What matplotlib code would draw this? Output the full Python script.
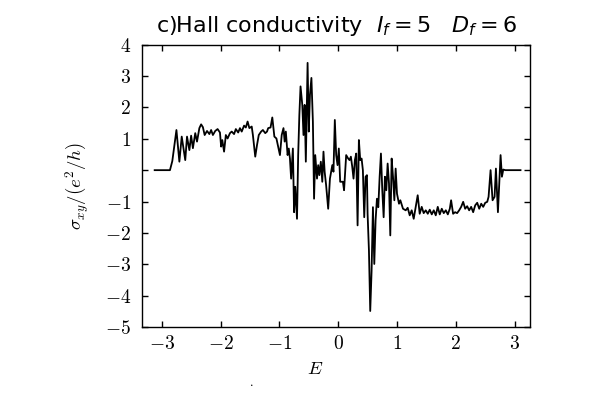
import numpy as np
import matplotlib
matplotlib.use('Agg')
import matplotlib.pyplot as plt

# energy grid and Hall conductivity
energy = [-3.12, -2.86, -2.82, -2.75, -2.70, -2.66, -2.60, -2.57, -2.53, -2.50,
          -2.47, -2.43, -2.40, -2.36, -2.33, -2.30, -2.27, -2.23, -2.19, -2.16,
          -2.13, -2.09, -2.05, -2.01, -1.99, -1.97, -1.94, -1.91, -1.88, -1.84,
          -1.81, -1.77, -1.74, -1.70, -1.67, -1.64, -1.60, -1.57, -1.54, -1.51,
          -1.47, -1.45, -1.41, -1.38, -1.35, -1.31, -1.28, -1.24, -1.21, -1.19,
          -1.15, -1.12, -1.085, -1.05, -1.02,
          -0.99, -0.96, -0.93, -0.91, -0.89, -0.86, -0.84, -0.82, -0.80, -0.77,
          -0.75, -0.73, -0.70, -0.68, -0.66, -0.64, -0.61, -0.59, -0.57, -0.55,
          -0.52, -0.50, -0.48, -0.455, -0.43, -0.41, -0.39, -0.36, -0.34, -0.32,
          -0.295, -0.27, -0.25, -0.23, -0.205, -0.17, -0.14, -0.10, -0.08, -0.057,
          -0.034, -0.011, 0.011, 0.034,
          0.08, 0.10, 0.136, 0.17, 0.193, 0.216, 0.239, 0.261, 0.284, 0.307,
          0.33, 0.352, 0.375, 0.398, 0.42, 0.443, 0.466, 0.489, 0.50, 0.523,
          0.545, 0.568, 0.591, 0.614, 0.636, 0.659, 0.682, 0.705, 0.727, 0.75,
          0.773, 0.795, 0.818, 0.841, 0.864, 0.886, 0.909, 0.932, 0.955, 0.977,
          1.0, 1.034,
          1.057, 1.102, 1.148, 1.182, 1.216, 1.25, 1.284, 1.318, 1.352, 1.386,
          1.42, 1.454, 1.489, 1.523, 1.557, 1.591, 1.625, 1.659, 1.693, 1.727,
          1.761, 1.795, 1.83, 1.864, 1.898, 1.92, 1.954, 1.988, 2.022, 2.057,
          2.091, 2.125, 2.159, 2.193, 2.227, 2.261, 2.295, 2.33, 2.364, 2.398,
          2.432, 2.466, 2.5, 2.534, 2.557, 2.591, 2.625, 2.659, 2.682, 2.716,
          2.761, 2.784, 2.807, 2.841, 3.10]

sigma_xy = [0.0, 0.0, 0.29, 1.28, 0.27, 1.07, 0.32, 1.07, 0.64, 1.10,
            0.70, 1.18, 0.91, 1.34, 1.46, 1.37, 1.12, 1.25, 1.15, 1.28,
            1.12, 1.25, 1.31, 1.20, 0.75, 0.96, 0.59, 1.12, 1.01, 1.18,
            1.23, 1.15, 1.31, 1.20, 1.34, 1.23, 1.42, 1.36, 1.55, 1.34,
            1.39, 1.12, 0.43, 0.80, 1.12, 1.23, 1.28, 1.18, 1.23, 1.34,
            1.36, 1.68, 1.07, 1.01, 0.75,
            0.48, 1.12, 1.34, 0.91, 1.23, 0.48, 0.69, 0.37, -0.27, 0.69,
            -1.34, -0.53, -1.55, 0.48, 1.76, 2.67, 2.08, 1.12, 2.08, 0.27,
            3.42, 1.23, 2.40, 2.94, 1.55, -0.91, 0.48, -0.27, 0.16, -0.16,
            0.27, -0.37, 0.59, -0.05, -0.48, -1.23, -0.27, 0.16, -0.05, 1.60,
            0.48, 0.16, 0.69, -0.37,
            -0.37, -0.64, 0.48, 0.37, 0.32, 0.43, 0.11, -0.27, 0.32, 0.53,
            -1.76, 0.96, 0.32, 0.37, 0.0, -1.50, -0.21, -0.16, -1.39, -2.56,
            -4.49, -3.21, -1.18, -2.99, -1.60, -0.91, -1.18, -0.21, 0.53, -0.64,
            -1.50, -0.21, -0.64, 0.21, -0.43, -2.08, 0.37, -0.21, -0.96, 0.05,
            -0.75, -1.07,
            -0.96, -1.23, -1.28, -1.20, -1.44, -1.28, -1.55, -1.17, -0.80, -1.39,
            -1.17, -1.37, -1.28, -1.39, -1.26, -1.41, -1.28, -1.44, -1.17, -1.41,
            -1.23, -1.37, -1.28, -1.41, -1.23, -0.96, -1.39, -1.34, -1.37, -1.28,
            -1.17, -1.01, -1.23, -1.15, -1.28, -1.17, -1.34, -1.12, -1.04, -1.23,
            -1.07, -1.17, -1.04, -1.01, -0.85, 0.0, -0.96, -0.85, 0.05, -1.34,
            0.48, -0.21, 0.02, 0.0, 0.0]

xticks = [-3, -2, -1, 0, 1, 2, 3]
yticks = [-5, -4, -3, -2, -1, 0, 1, 2, 3, 4]

plt.rcParams['font.family'] = 'DejaVu Serif'
plt.rcParams['mathtext.fontset'] = 'cm'

fig = plt.figure(figsize=(6, 4), dpi=100)
ax = fig.add_axes([0.2367, 0.1825, 0.6467, 0.7058])

ax.plot(energy, sigma_xy, color='black', lw=1.3)

ax.set_xlim(-3.335, 3.262)
ax.set_ylim(-5, 4)
ax.set_xticks(xticks)
ax.set_xticklabels(['$%d$' % t for t in xticks])
ax.set_yticks(yticks)
ax.set_yticklabels(['' if t == 0 else '$%d$' % t for t in yticks])
ax.tick_params(direction='in', top=True, right=True, length=4, width=1,
               labelsize=14)
ax.tick_params(axis='x', pad=6)
ax.tick_params(axis='y', pad=8)
for sp in ax.spines.values():
    sp.set_linewidth(1.0)

# the E label sits a bit left of the axes centre in the original
ax.set_xlabel('$E$', fontsize=13.5, labelpad=5, x=0.446)
ax.set_ylabel(r'$\sigma_{xy}/(e^2/h)$', fontsize=13.5, labelpad=10)
ax.set_title(r'c)Hall conductivity  $I_f=5$   $D_f=6$', fontsize=16,
             family='DejaVu Sans', math_fontfamily='dejavusans', pad=9)

fig.text(250 / 600, 1 - 386 / 400, '.', fontsize=8)

fig.savefig('out.png', dpi=100, facecolor='white')
